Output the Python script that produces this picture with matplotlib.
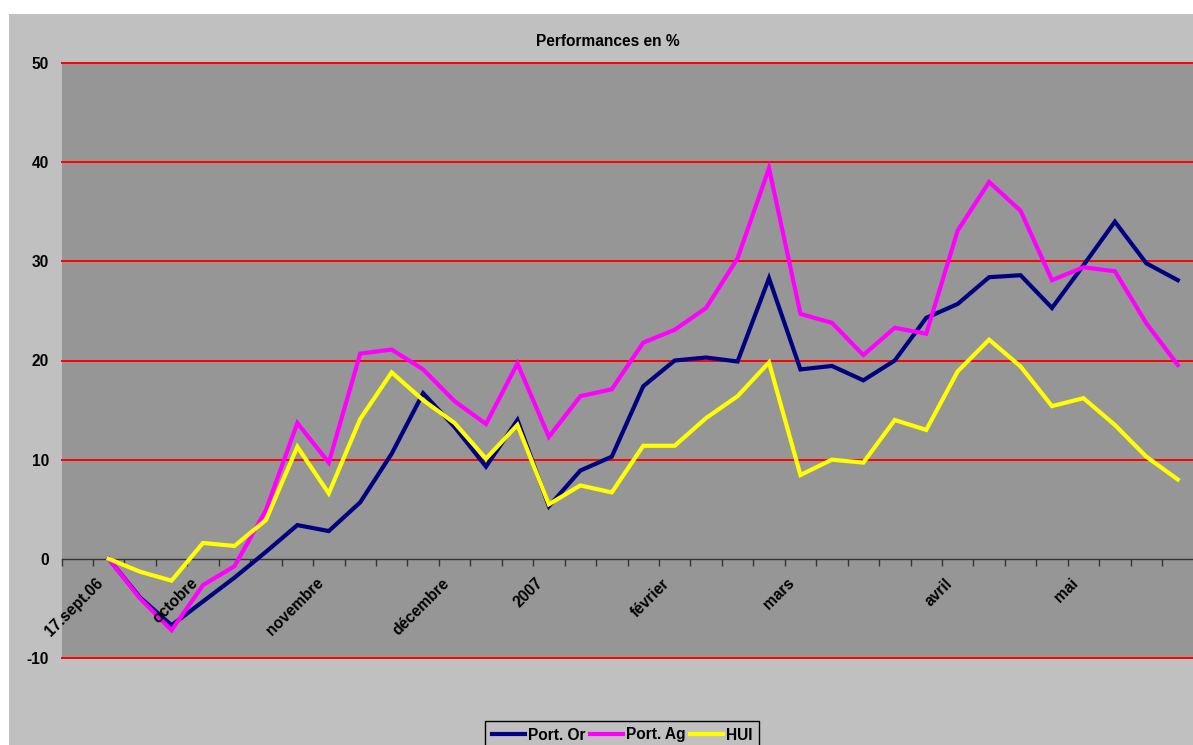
import numpy as np
import matplotlib
matplotlib.use("Agg")
import matplotlib.pyplot as plt
from matplotlib.patches import Rectangle
from matplotlib.transforms import offset_copy

plt.rcParams['font.family'] = ['Liberation Sans', 'DejaVu Sans']

W, H = 1193, 745
FS = 11.2

# 36 weekly slots; first slot is empty
slot_labels = ["", "17.sept.06", "", "", "octobre", "", "", "", "novembre", "", "", "",
               "décembre", "", "", "2007", "", "", "", "février", "", "", "", "mars",
               "", "", "", "", "avril", "", "", "", "mai", "", "", ""]

port_or = [np.nan, 0, -3.9, -6.7, -4.3, -1.9, 0.7, 3.4, 2.8, 5.7, 10.6, 16.7, 13.3, 9.3,
           14.0, 5.3, 8.9, 10.3, 17.4, 20.0, 20.3, 19.9, 28.3, 19.1, 19.45, 18.0, 20.0,
           24.3, 25.7, 28.4, 28.6, 25.3, 29.6, 34.0, 29.8, 28.1]
port_ag = [np.nan, 0, -4.0, -7.2, -2.65, -0.75, 4.9, 13.7, 9.7, 20.7, 21.1, 19.1, 15.9, 13.6,
           19.7, 12.3, 16.4, 17.1, 21.8, 23.1, 25.3, 30.3, 39.4, 24.7, 23.8, 20.55, 23.3,
           22.7, 33.1, 38.0, 35.1, 28.1, 29.4, 29.0, 23.75, 19.55]
hui = [np.nan, 0, -1.3, -2.2, 1.6, 1.3, 3.9, 11.3, 6.6, 14.1, 18.8, 16.0, 13.7, 10.1,
       13.5, 5.5, 7.4, 6.7, 11.4, 11.4, 14.2, 16.4, 19.8, 8.45, 10.0, 9.7, 14.0,
       13.0, 18.9, 22.1, 19.4, 15.4, 16.2, 13.5, 10.3, 8.0]

yticks = [-10, 0, 10, 20, 30, 40, 50]

fig = plt.figure(figsize=(W / 100, H / 100), dpi=100, facecolor='white')
# outer chart area
fig.patches.append(Rectangle((9 / W, 0), 1.0, 1 - 14 / H, transform=fig.transFigure,
                             facecolor='#C0C0C0', edgecolor='none', zorder=-5))

left, right = 61.5 / W, 1193.5 / W
top, bottom = 1 - 63 / H, 1 - 658 / H
ax = fig.add_axes([left, bottom, right - left, top - bottom])
ax.set_facecolor('#969696')

n = len(slot_labels)
x = np.arange(n) + 0.5
ax.set_xlim(0, n)
ax.set_ylim(-10, 50)

for yv in yticks:
    if yv != 0:
        ax.axhline(yv, color='#FF0000', lw=1.4, zorder=1, clip_on=False)

ax.plot(x, port_or, color='#000080', lw=3, solid_joinstyle='miter', zorder=3, label='Port. Or')
ax.plot(x, port_ag, color='#FF00FF', lw=3, solid_joinstyle='miter', zorder=3, label='Port. Ag')
ax.plot(x, hui, color='#FFFF00', lw=3, solid_joinstyle='miter', zorder=4, label='HUI')

for s in ['top', 'right', 'left']:
    ax.spines[s].set_visible(False)
ax.spines['bottom'].set_position(('data', 0))
ax.spines['bottom'].set_color('#333333')
ax.spines['bottom'].set_linewidth(1.0)
ax.spines['bottom'].set_zorder(2)

ax.set_xticks(np.arange(n + 1))
ax.set_xticklabels([])
ax.tick_params(axis='x', direction='out', length=5, width=1, color='#333333')

ax.set_yticks(yticks)
ax.set_yticklabels([str(v) for v in yticks], fontsize=FS, fontweight='bold')
ax.tick_params(axis='y', length=0, pad=9)

for i, lab in enumerate(slot_labels):
    if lab:
        tr = offset_copy(ax.transData, fig=fig, x=-8, y=-22, units='dots')
        ax.text(x[i], 0, lab, transform=tr, rotation=45, rotation_mode='anchor',
                ha='right', va='center', fontsize=FS, fontweight='bold', color='black')

fig.text(608 / W, 1 - 42 / H, 'Performances en %', ha='center', va='center',
         fontsize=FS, fontweight='bold')

leg = fig.legend(loc='upper left', bbox_to_anchor=(485 / W, 1 - 720.5 / H), ncol=3,
                 frameon=True, fancybox=False, edgecolor='black', facecolor='#C0C0C0',
                 framealpha=1, borderaxespad=0, borderpad=0.45, handlelength=2.1,
                 handletextpad=0.2, columnspacing=0.3,
                 prop={'size': FS, 'weight': 'bold'})
leg.get_frame().set_linewidth(1.0)

fig.savefig('out.png', dpi=100, facecolor='white')
